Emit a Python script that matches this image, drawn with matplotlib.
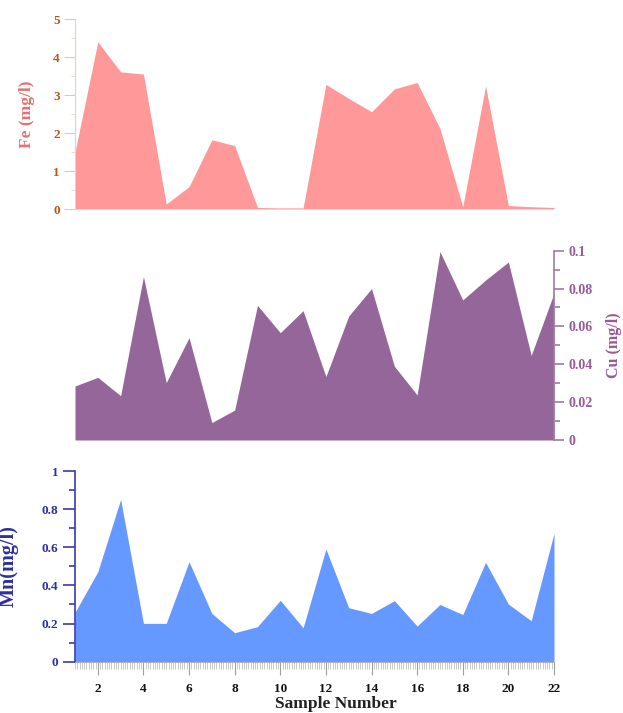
import matplotlib
matplotlib.use("Agg")
import matplotlib.pyplot as plt
from matplotlib.ticker import MultipleLocator
import numpy as np

samples = list(range(1, 23))
fe = [1.50, 4.40, 3.61, 3.55, 0.13, 0.59, 1.82, 1.67, 0.04, 0.03, 0.03,
      3.28, 2.91, 2.56, 3.16, 3.33, 2.12, 0.06, 3.24, 0.09, 0.06, 0.04]
cu = [0.0285, 0.0331, 0.0234, 0.0863, 0.0303, 0.0540, 0.0092, 0.0158, 0.0711, 0.0567, 0.0683,
      0.0335, 0.0655, 0.0800, 0.0390, 0.0238, 0.0995, 0.0740, 0.0845, 0.0940, 0.0447, 0.0775]
mn = [0.259, 0.472, 0.851, 0.201, 0.201, 0.524, 0.253, 0.152, 0.184, 0.322, 0.178,
      0.591, 0.283, 0.253, 0.320, 0.187, 0.300, 0.247, 0.521, 0.302, 0.215, 0.673]
xticks = list(range(2, 23, 2))

plt.rcParams['font.family'] = ['Liberation Serif', 'DejaVu Serif']
plt.rcParams['font.weight'] = 'bold'

W, H = 623, 713
fig = plt.figure(figsize=(W / 100, H / 100), dpi=100)

def rect(left, top, right, bottom):
    return [left / W, 1 - bottom / H, (right - left) / W, (bottom - top) / H]

ax1 = fig.add_axes(rect(75, 19, 554, 209))
ax2 = fig.add_axes(rect(75, 250.7, 554, 440))
ax3 = fig.add_axes(rect(75, 471, 554, 661.7))

# --- Fe panel ---
fe_fill = '#FF9999'
fe_tick = '#B5561E'
fe_lab = '#E8706E'
ax1.fill_between(samples, fe, 0, color=fe_fill, linewidth=0)
ax1.set_xlim(1, 22)
ax1.set_ylim(0, 5)
for s in ['top', 'right', 'bottom']:
    ax1.spines[s].set_visible(False)
ax1.spines['left'].set_color('#DDD3C8')
ax1.yaxis.set_major_locator(MultipleLocator(1))
ax1.yaxis.set_minor_locator(MultipleLocator(0.5))
ax1.tick_params(axis='y', which='major', colors='#D8CCC0', labelcolor=fe_tick,
                length=8, labelsize=9.5, direction='out', pad=3)
ax1.tick_params(axis='y', which='minor', colors='#E0D8D0', length=3)
ax1.set_xticks([])
ax1.set_ylabel('Fe (mg/l)', color=fe_lab, fontsize=12.5, fontweight='bold')
ax1.yaxis.set_label_coords(-0.0835, 0.5)

# --- Cu panel ---
cu_fill = '#946699'
cu_txt = '#9A5A95'
ax2.fill_between(samples, cu, 0, color=cu_fill, linewidth=0)
ax2.set_xlim(1, 22)
ax2.set_ylim(0, 0.1)
for s in ['top', 'left', 'bottom']:
    ax2.spines[s].set_visible(False)
ax2.spines['right'].set_color('#A07AA0')
ax2.spines['right'].set_linewidth(1.2)
ax2.yaxis.tick_right()
ax2.yaxis.set_label_position('right')
ax2.yaxis.set_minor_locator(MultipleLocator(0.01))
ax2.set_yticks([0, 0.02, 0.04, 0.06, 0.08, 0.1])
ax2.set_yticklabels(['0', '0.02', '0.04', '0.06', '0.08', '0.1'])
ax2.tick_params(axis='y', which='major', colors='#A07AA0', labelcolor=cu_txt,
                length=7, width=1.2, labelsize=10)
ax2.tick_params(axis='y', which='minor', colors='#A07AA0', length=4, width=1.2)
ax2.set_xticks([])
ax2.set_ylabel('Cu (mg/l)', color=cu_txt, fontsize=11.5, fontweight='bold')
ax2.yaxis.set_label_coords(1.108, 0.5)

# --- Mn panel ---
mn_fill = '#6699FF'
mn_txt = '#2E2E9E'
ax3.fill_between(samples, mn, 0, color=mn_fill, linewidth=0)
ax3.set_xlim(1, 22)
ax3.set_ylim(0, 1)
for s in ['top', 'right']:
    ax3.spines[s].set_visible(False)
ax3.spines['left'].set_color('#3A3AB0')
ax3.spines['left'].set_linewidth(1.2)
ax3.spines['bottom'].set_color('#B0B0B0')
ax3.spines['bottom'].set_linewidth(0.8)
ax3.yaxis.set_minor_locator(MultipleLocator(0.1))
ax3.set_yticks([0, 0.2, 0.4, 0.6, 0.8, 1.0])
ax3.set_yticklabels(['0', '0.2', '0.4', '0.6', '0.8', '1'])
ax3.tick_params(axis='y', which='major', colors='#3A3AB0', labelcolor=mn_txt,
                length=9, width=1.2, labelsize=9.5, pad=3)
ax3.tick_params(axis='y', which='minor', colors='#3A3AB0', length=4, width=1.2)
ax3.set_xticks(xticks)
ax3.set_xticklabels([str(v) for v in xticks])
ax3.xaxis.set_minor_locator(MultipleLocator(0.1))
ax3.tick_params(axis='x', which='major', colors='#A0A0A0', labelcolor='#111111',
                length=9, width=0.8, labelsize=9.5, pad=6)
ax3.tick_params(axis='x', which='minor', colors='#C0C0C0', length=5, width=0.6)
ax3.set_ylabel('Mn(mg/l)', color=mn_txt, fontsize=14.5, fontweight='bold')
ax3.yaxis.set_label_coords(-0.117, 0.5)
ax3.set_xlabel('Sample Number', color='#222222', fontsize=12.5, fontweight='bold')
ax3.xaxis.set_label_coords(0.544, -0.18)

fig.savefig('out.png', dpi=100)
